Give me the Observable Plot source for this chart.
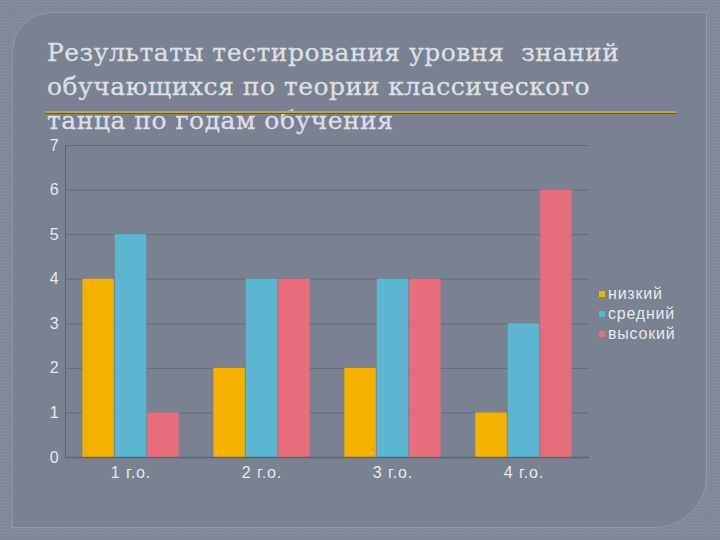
<!DOCTYPE html>
<html><head><meta charset="utf-8">
<script src="https://cdn.jsdelivr.net/npm/d3@7"></script>
<script src="https://cdn.jsdelivr.net/npm/@observablehq/plot@0.6"></script>
<style>
html,body{margin:0;padding:0;}
body{width:720px;height:540px;position:relative;overflow:hidden;
 background-color:#7f8798;
 background-image:radial-gradient(rgba(255,255,255,0.10) 0.8px, transparent 1px);
 background-size:3px 3px;}
#panel{position:absolute;left:12px;top:12px;width:693px;height:514px;background:#7a8191;
 border:1px solid #9198a7;border-radius:40px 0 52px 0;}
#title{position:absolute;left:47px;top:36px;font-family:"DejaVu Serif",serif;font-size:25px;letter-spacing:0.5px;line-height:34px;
 color:#dcdfe4;white-space:pre;-webkit-text-stroke:0.35px #dcdfe4;}
#gold{position:absolute;left:45px;top:111px;width:631px;height:2px;background:#c9a23a;border-bottom:1px solid #5a5a50;}
#chart{position:absolute;left:0;top:135px;}
#chart text{fill:#e6e8ec;letter-spacing:0.9px;}
#legend{position:absolute;left:599px;top:284px;font-family:"Liberation Sans",Arial,sans-serif;font-size:16px;letter-spacing:0.8px;color:#e6e8ec;line-height:20px;}
#legend .it{display:flex;align-items:center;}
#legend .sw{width:6px;height:6px;margin-right:3px;}
</style></head>
<body>
<div id="panel"></div>
<div id="title">Результаты тестирования уровня  знаний
обучающихся по теории классического
танца по годам обучения</div>
<div id="gold"></div>
<div id="chart"></div>
<div id="legend"></div>
<script>
const years = ["1 г.о.", "2 г.о.", "3 г.о.", "4 г.о."];
const series = ["низкий", "средний", "высокий"];
const low = [4, 2, 2, 1];
const mid = [5, 4, 4, 3];
const high = [1, 4, 4, 6];
const colors = ["#f3b100", "#5db6cf", "#e76c7d"];
const yTicks = [0, 1, 2, 3, 4, 5, 6, 7];

const values = [low, mid, high];
const data = [];
years.forEach((y, i) => series.forEach((s, j) => data.push({year: y, series: s, value: values[j][i]})));

const chart = Plot.plot({
  width: 600,
  height: 352,
  marginLeft: 63,
  marginRight: 10,
  marginTop: 10,
  marginBottom: 30,
  style: {background: "transparent", color: "#5e6471", fontSize: "16px", fontFamily: "Liberation Sans, Arial, sans-serif"},
  fx: {domain: years, padding: 0, axis: "bottom", label: null, tickSize: 0, tickPadding: 9},
  x: {domain: series, axis: null, paddingInner: 0, paddingOuter: 0.52, round: false},
  y: {domain: [0, 7], ticks: yTicks, tickFormat: d => String(d), label: null, tickSize: 0, tickPadding: 6, line: true},
  color: {domain: series, range: colors},
  marks: [
    Plot.gridY(yTicks, {stroke: "#656b79", strokeOpacity: 1}),
    Plot.barY(data, {fx: "year", x: "series", y: "value", fill: "series", insetLeft: 0.5, insetRight: 0.5}),
    Plot.ruleY([0], {stroke: "#5e6471", strokeWidth: 1.5})
  ]
});
document.getElementById("chart").appendChild(chart);

const lg = d3.select("#legend");
series.forEach((s, j) => {
  const it = lg.append("div").attr("class", "it");
  it.append("div").attr("class", "sw").style("background", colors[j]);
  it.append("span").text(s);
});
</script>
</body></html>
